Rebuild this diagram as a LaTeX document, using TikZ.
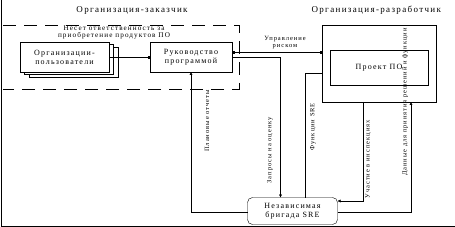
\documentclass[tikz,border=0pt]{standalone}
\usepackage{fontspec}
\setmainfont[LetterSpace=15]{Liberation Serif}
\usetikzlibrary{arrows.meta,positioning,calc}
\tikzset{
  box/.style  = {draw, fill=white, outer sep=0pt, inner sep=1pt, align=center,
                 font=\fontsize{8}{9}\selectfont},
  team/.style = {box, rounded corners=5pt},
  ttl/.style  = {font=\fontsize{9}{10}\selectfont},
  lbl/.style  = {font=\fontsize{6.5}{6.5}\selectfont, align=center, inner sep=0pt},
  vlbl/.style = {lbl, rotate=90},
  ln/.style   = {thin},
  ar/.style   = {thin, -{Latex[length=3pt,width=3pt]}},
  sq/.style   = {-{Square[length=2pt,width=2pt]}},
  zone/.style = {thick, dash pattern=on 13pt off 8pt}
}

\begin{document}
\begin{tikzpicture}[x=1pt,y=-1pt]
  \useasboundingbox (0,0) rectangle (455,227);
  % frames
  \draw[ln] (1,0) -- (1,226) -- (455,226);
  \draw[zone] (3,25) -- (239,25) -- (239,89) -- (3,89);
  \node[ttl] (cust) at (132,10) {Организация-заказчик};
  \node[ttl, anchor=west] (devt) at (308,10) {Организация-разработчик};
  \node[lbl, font=\fontsize{7.2}{6.8}\selectfont] (resp) at (114,32.5)
        {Несет ответственность за\\приобретение продуктов ПО};

  % customer side
  \node[box, minimum width=89pt, minimum height=30pt] (users3) at (73.5,62) {};
  \node[box, minimum width=89pt, minimum height=30pt] (users2) at (68.5,59) {};
  \node[box, minimum width=89pt, minimum height=30pt] (users) at (64.5,57)
        {Организации-\\пользователи};
  \node[box, minimum width=82pt, minimum height=30pt] (prog) at (191,57)
        {Руководство\\программой};

  % developer side
  \node[box, minimum width=114pt, minimum height=77pt] (dev) at (379,63.5) {};
  \node[box, minimum width=98pt, minimum height=35pt] (proj) at (379,67.5) {Проект ПО};
  \node[team, minimum width=90pt, minimum height=27pt] (sre) at (292.5,211)
        {Независимая\\бригада SRE};

  % connectors
  \draw[ln, sq] (users.east) -- (prog.west);
  \coordinate (risk) at ([yshift=5pt]prog.east);
  \draw[ln, {Square[length=2pt,width=2pt]}-{Square[length=2pt,width=2pt]}]
        (risk) -- (risk -| dev.west)
        node[lbl, midway, above=3pt, xshift=8pt] {Управление\\риском};
  \draw[ar] (prog.east) -| ([xshift=-12pt]sre.north);
  \draw[ln] ([xshift=13pt]sre.north) |- ([yshift=-9.5pt]dev.west);
  \draw[ar] ([xshift=-16pt]dev.south) |- ([yshift=10pt]sre.east);
  \draw[ar] ([yshift=-1pt]sre.east) -| ([xshift=32pt]dev.south);
  \draw[ar] ([yshift=-1pt]sre.west) -| (prog.south);

  % rotated labels
  \node[vlbl] (rep) at (207,121) {Плановые отчеты};
  \node[vlbl, anchor=east] (req) at (270,117) {Запросы на оценку};
  \node[vlbl] (fun) at (313,127) {Функции SRE};
  \node[vlbl, anchor=east] (insp) at (368,120) {Участие в инспекциях};
  \node[vlbl, anchor=east] (data) at (405,28) {Данные для принятия решений и функции};
\end{tikzpicture}
\end{document}
